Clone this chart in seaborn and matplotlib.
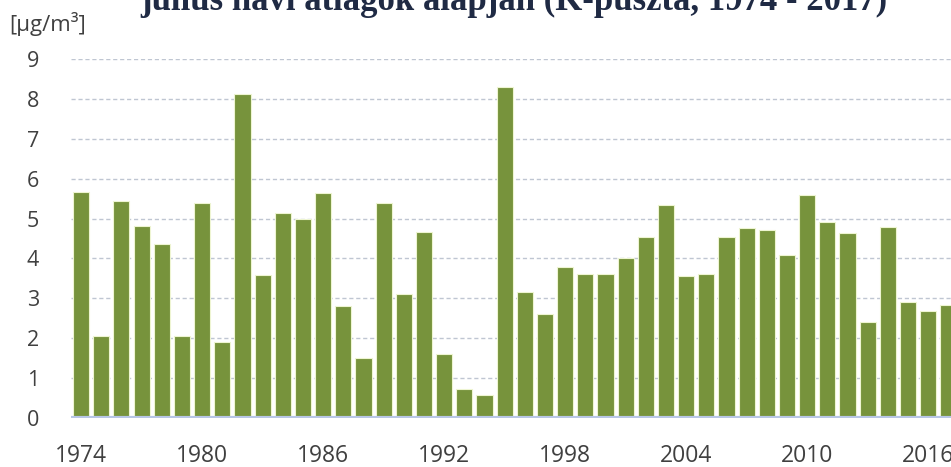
import numpy as np
import pandas as pd
import seaborn as sns
import matplotlib.pyplot as plt

# July monthly means, K-puszta 1974-2017
years = list(range(1974, 2018))
values = [5.66, 2.06, 5.44, 4.82, 4.36, 2.05, 5.40, 1.90, 8.12, 3.58,
          5.14, 4.99, 5.64, 2.80, 1.50, 5.40, 3.11, 4.67, 1.61, 0.73,
          0.58, 8.31, 3.16, 2.61, 3.79, 3.61, 3.61, 4.00, 4.53, 5.34,
          3.55, 3.61, 4.55, 4.77, 4.71, 4.09, 5.60, 4.92, 4.65, 2.40,
          4.79, 2.91, 2.69, 2.84]
tick_years = [1974, 1980, 1986, 1992, 1998, 2004, 2010, 2016]
y_ticks = list(range(0, 10))

title = "július havi átlagok alapján (K-puszta, 1974 - 2017)"
unit = "[µg/m³]"

df = pd.DataFrame({"year": [str(y) for y in years], "value": values})

sns.set_style("white")
plt.rcParams['font.family'] = ['Open Sans', 'DejaVu Sans']

fig = plt.figure(figsize=(9.51, 4.67), dpi=100)
ax = fig.add_axes([71 / 951, 49 / 467, 1 - 71 / 951, 359 / 467])

sns.barplot(data=df, x="year", y="value", color="#77933c", saturation=1,
            width=0.8, edgecolor="#eef5d2", linewidth=0.8, ax=ax, zorder=2)

ax.set_xlim(-0.5, 43.13)
ax.set_ylim(0, 9)
for s in ax.spines.values():
    s.set_visible(False)

for v in y_ticks[1:]:
    ax.axhline(v, color="#bfc6d2", lw=1.0, ls=(0, (3, 2)), zorder=1)
ax.axhline(0, color="#b8c6e6", lw=3, zorder=3)

ax.set_yticks(y_ticks)
ax.set_yticklabels([str(v) for v in y_ticks], fontsize=15.5, color="#404040")
ax.tick_params(axis="y", length=0, pad=23)

pos = [years.index(y) for y in tick_years]
ax.set_xticks(pos)
ax.set_xticklabels([str(y) for y in tick_years], fontsize=16.5, color="#404040")
ax.tick_params(axis="x", length=0, pad=18.5)
ax.set_xlabel("")
ax.set_ylabel("")

fig.text(9 / 951, 1 - 24 / 467, unit, fontsize=16, color="#404040",
         ha="left", va="center")
# title is cropped at the top edge, as in the source image
fig.text(514 / 951, 1 - 10 / 467, title, fontsize=25, fontweight="bold",
         color="#1f2a44", ha="center", va="baseline",
         family=['Liberation Serif', 'DejaVu Serif'])

fig.savefig("out.png", dpi=100, facecolor="white")
